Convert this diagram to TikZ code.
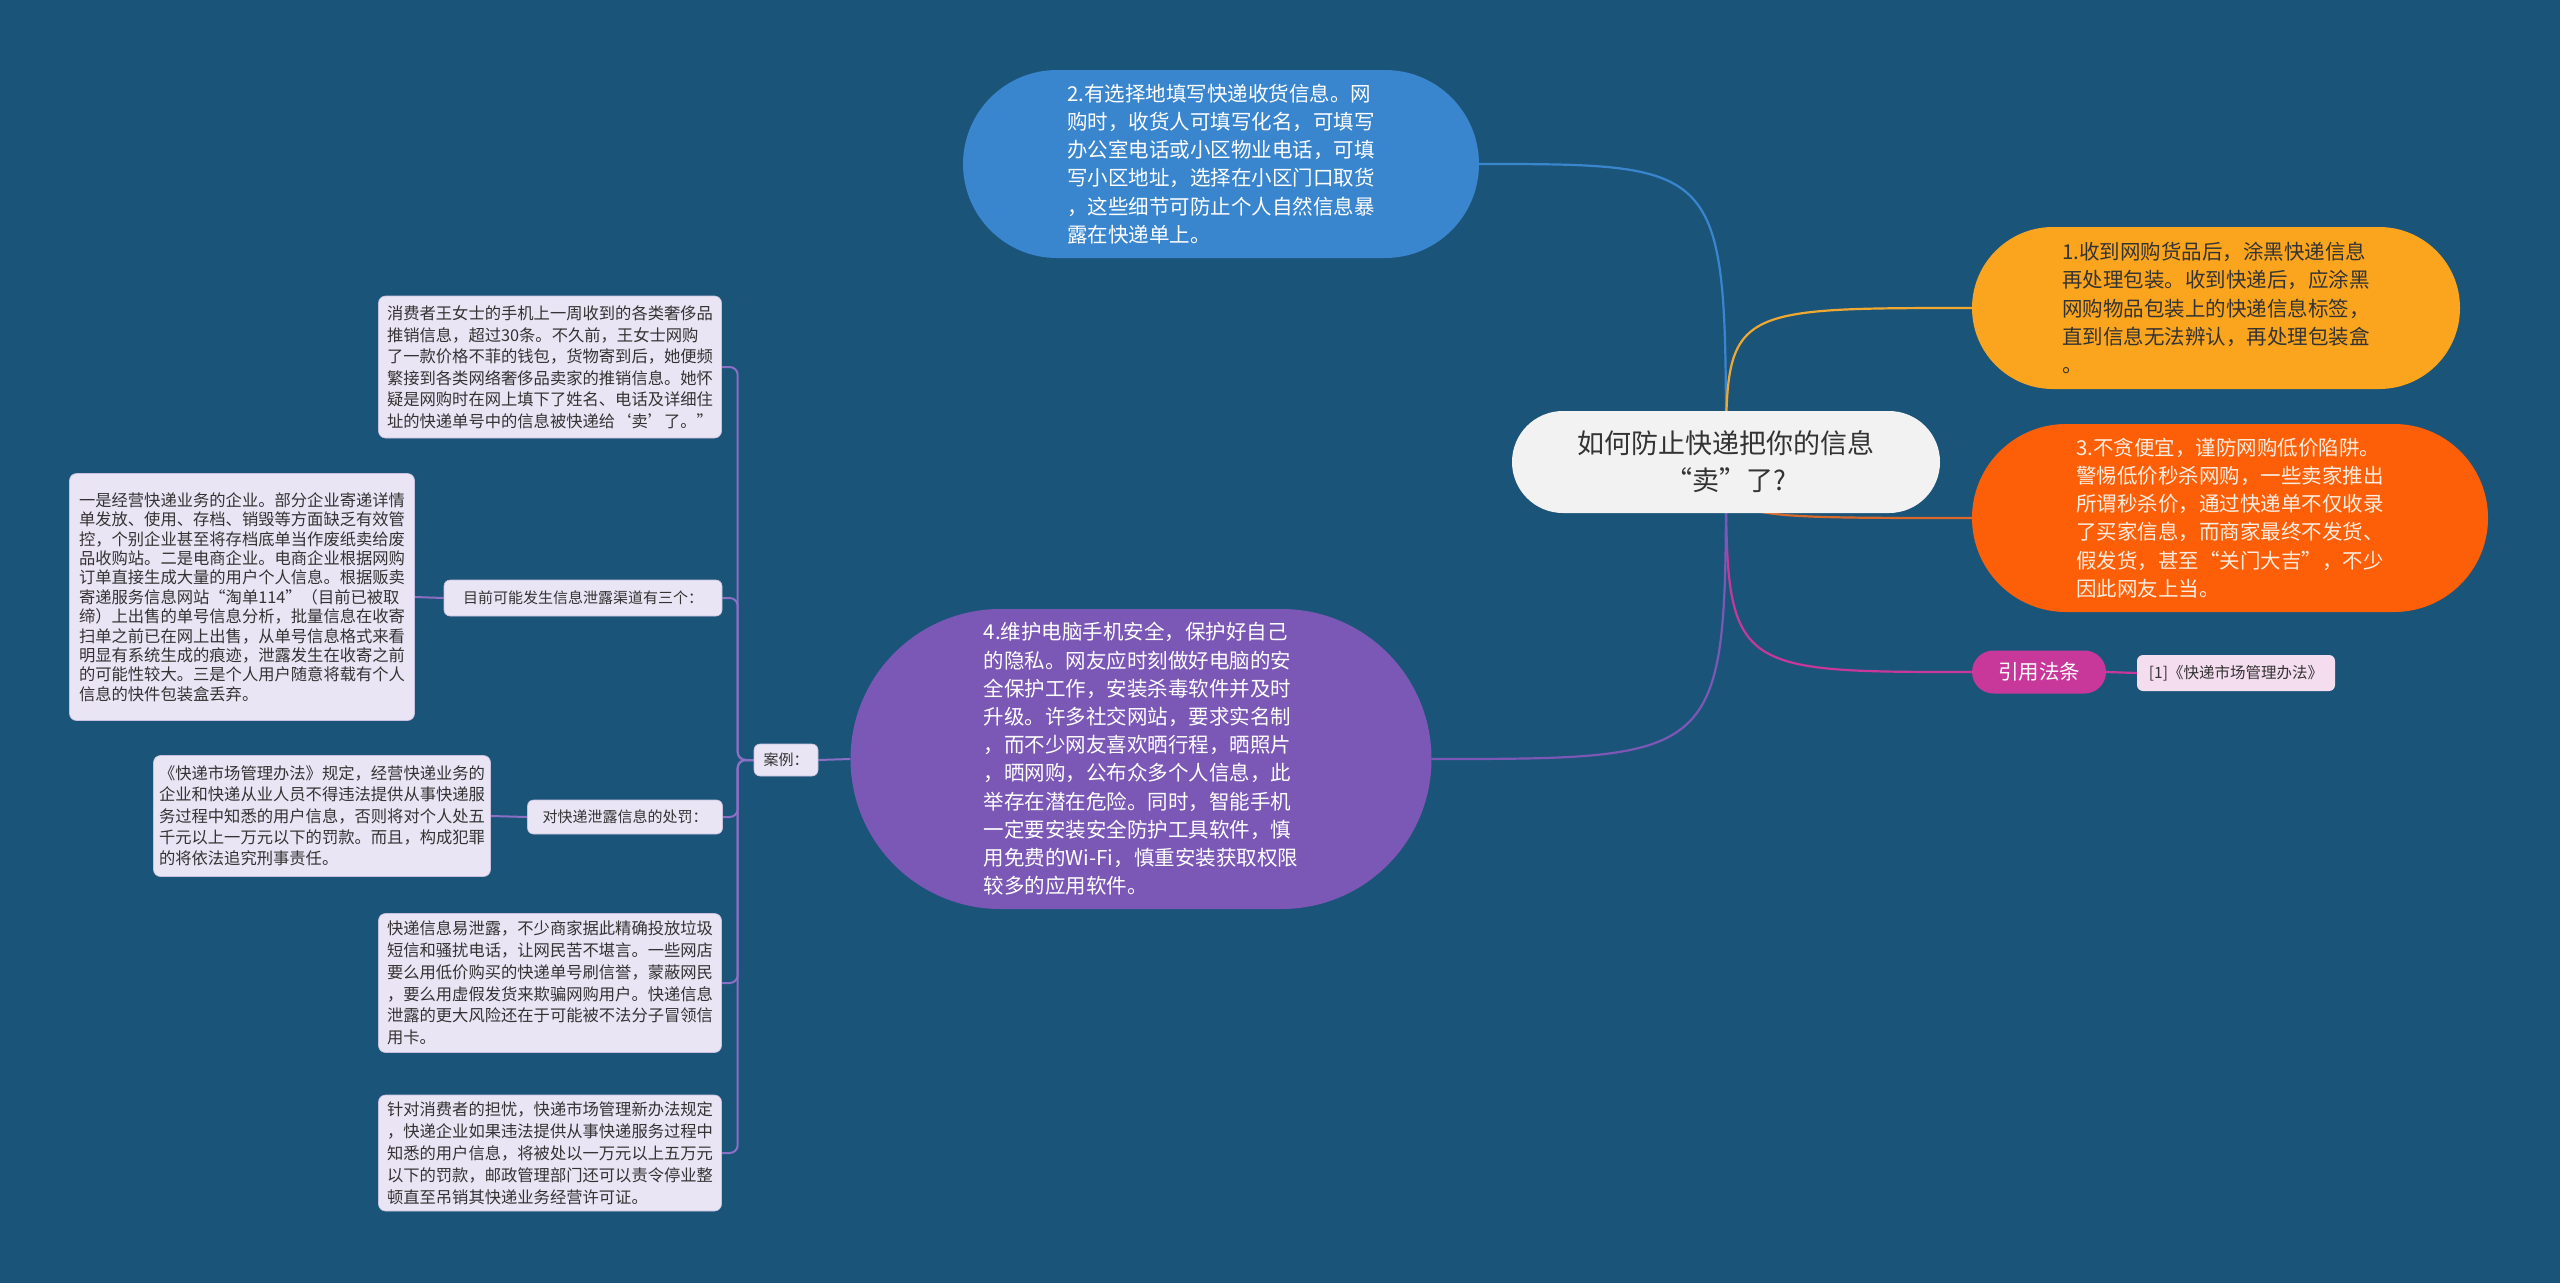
\documentclass[tikz,border=0pt]{standalone}
\usepackage{fontspec}
\setmainfont{Noto Sans CJK SC}
\usetikzlibrary{shapes.misc,backgrounds}
\pgfdeclarelayer{bgfill}
\pgfsetlayers{bgfill,background,main}
\definecolor{bg}{HTML}{1B5479}
\definecolor{cblue}{HTML}{3A86CE}
\definecolor{cyellow}{HTML}{FBA51E}
\definecolor{cyline}{HTML}{F0A830}
\definecolor{corange}{HTML}{FD5F08}
\definecolor{coline}{HTML}{D9692A}
\definecolor{cpurple}{HTML}{7C58B6}
\definecolor{cmag}{HTML}{C8389A}
\definecolor{cpink}{HTML}{F5DDF0}
\definecolor{croot}{HTML}{F2F2F2}
\definecolor{cbox}{HTML}{E9E5F4}
\definecolor{cboxline}{HTML}{C8C0DE}
\definecolor{ctree}{HTML}{8A6FC4}
\definecolor{ctext}{HTML}{333333}
\definecolor{ccream}{HTML}{FCEDE0}
\begin{document}
\begin{tikzpicture}[x=1pt,y=-1pt,
  blob/.style={shape=rounded rectangle, align=left, inner sep=0pt,
    font={\fontsize{20.5}{28.2}\selectfont}},
  smallbox/.style={shape=rectangle, rounded corners=7pt, fill=cbox, draw=cboxline,
    line width=0.6pt, align=left, inner sep=0pt, text=ctext},
  lbl/.style={shape=rectangle, rounded corners=6pt, fill=cbox, draw=cboxline,
    line width=0.6pt, inner sep=0pt, text=ctext, font={\fontsize{15}{18}\selectfont}},
  conn/.style={line width=2.2pt},
  tree/.style={line width=2pt, draw=ctree, rounded corners=8pt}
]
\begin{pgfonlayer}{bgfill}
\fill[bg] (0,0) rectangle (2560,1283);
\end{pgfonlayer}
\useasboundingbox (0,0) rectangle (2560,1283);

% root and main branches
\node[blob, fill=croot, text=ctext, minimum width=428pt, minimum height=102pt,
  align=center, font={\fontsize{27}{37}\selectfont}] (root) at (1726,462)
  {如何防止快递把你的信息\\“卖”了?};

\node[blob, fill=cblue, text=white, minimum width=516pt, minimum height=188pt] (n2) at (1221,164)
{2.有选择地填写快递收货信息。网\\购时，收货人可填写化名，可填写\\办公室电话或小区物业电话，可填\\写小区地址，选择在小区门口取货\\，这些细节可防止个人自然信息暴\\露在快递单上。};

\node[blob, fill=cyellow, text=ctext, minimum width=488pt, minimum height=162pt] (n1) at (2216,308)
{1.收到网购货品后，涂黑快递信息\\再处理包装。收到快递后，应涂黑\\网购物品包装上的快递信息标签，\\直到信息无法辨认，再处理包装盒\\。};

\node[blob, fill=corange, text=ccream, minimum width=516pt, minimum height=188pt] (n3) at (2230,518)
{3.不贪便宜，谨防网购低价陷阱。\\警惕低价秒杀网购，一些卖家推出\\所谓秒杀价，通过快递单不仅收录\\了买家信息，而商家最终不发货、\\假发货，甚至“关门大吉”，不少\\因此网友上当。};

\node[blob, fill=cmag, text=white, minimum width=134pt, minimum height=43pt,
  font={\fontsize{20.5}{24}\selectfont}] (law) at (2039,672) {引用法条};

\node[shape=rectangle, rounded corners=6pt, fill=cpink, text=ctext, inner sep=0pt,
  minimum width=198pt, minimum height=36pt, font={\fontsize{15.5}{18}\selectfont}] (ref) at (2236,673)
  {[1]《快递市场管理办法》};

\node[blob, fill=cpurple, text=white, minimum width=581pt, minimum height=300pt] (n4) at (1141,759)
{4.维护电脑手机安全，保护好自己\\的隐私。网友应时刻做好电脑的安\\全保护工作，安装杀毒软件并及时\\升级。许多社交网站，要求实名制\\，而不少网友喜欢晒行程，晒照片\\，晒网购，公布众多个人信息，此\\举存在潜在危险。同时，智能手机\\一定要安装安全防护工具软件，慎\\用免费的Wi-Fi，慎重安装获取权限\\较多的应用软件。};

% left tree
\node[lbl, minimum width=64pt, minimum height=32pt] (case) at (786,760) {案例：};

\node[smallbox, minimum width=343pt, minimum height=142pt, font={\fontsize{16.3}{21.5}\selectfont}] (ca) at (550,367)
{消费者王女士的手机上一周收到的各类奢侈品\\推销信息，超过30条。不久前，王女士网购\\了一款价格不菲的钱包，货物寄到后，她便频\\繁接到各类网络奢侈品卖家的推销信息。她怀\\疑是网购时在网上填下了姓名、电话及详细住\\址的快递单号中的信息被快递给‘卖’了。”};

\node[lbl, minimum width=278pt, minimum height=36pt] (cb) at (583,598) {目前可能发生信息泄露渠道有三个：};

\node[smallbox, minimum width=345pt, minimum height=247pt, font={\fontsize{16.3}{19.4}\selectfont}] (cb1) at (242,597)
{一是经营快递业务的企业。部分企业寄递详情\\单发放、使用、存档、销毁等方面缺乏有效管\\控，个别企业甚至将存档底单当作废纸卖给废\\品收购站。二是电商企业。电商企业根据网购\\订单直接生成大量的用户个人信息。根据贩卖\\寄递服务信息网站“淘单114”（目前已被取\\缔）上出售的单号信息分析，批量信息在收寄\\扫单之前已在网上出售，从单号信息格式来看\\明显有系统生成的痕迹，泄露发生在收寄之前\\的可能性较大。三是个人用户随意将载有个人\\信息的快件包装盒丢弃。};

\node[lbl, minimum width=195pt, minimum height=34pt] (cc) at (625,817) {对快递泄露信息的处罚：};

\node[smallbox, minimum width=337pt, minimum height=121pt, font={\fontsize{16.3}{21.3}\selectfont}] (cc1) at (322,816)
{《快递市场管理办法》规定，经营快递业务的\\企业和快递从业人员不得违法提供从事快递服\\务过程中知悉的用户信息，否则将对个人处五\\千元以上一万元以下的罚款。而且，构成犯罪\\的将依法追究刑事责任。};

\node[smallbox, minimum width=343pt, minimum height=139pt, font={\fontsize{16.3}{21.8}\selectfont}] (cd) at (550,983)
{快递信息易泄露，不少商家据此精确投放垃圾\\短信和骚扰电话，让网民苦不堪言。一些网店\\要么用低价购买的快递单号刷信誉，蒙蔽网民\\，要么用虚假发货来欺骗网购用户。快递信息\\泄露的更大风险还在于可能被不法分子冒领信\\用卡。};

\node[smallbox, minimum width=343pt, minimum height=116pt, font={\fontsize{16.3}{22}\selectfont}] (ce) at (550,1153)
{针对消费者的担忧，快递市场管理新办法规定\\，快递企业如果违法提供从事快递服务过程中\\知悉的用户信息，将被处以一万元以上五万元\\以下的罚款，邮政管理部门还可以责令停业整\\顿直至吊销其快递业务经营许可证。};

% connectors (behind nodes)
\begin{scope}[on background layer]
\draw[conn, cblue] (root.center) .. controls (root.center |- n2.east) .. (n2.east);
\draw[conn, cyline] (root.center) .. controls (root.center |- n1.west) .. (n1.west);
\draw[conn, coline] (root.center) .. controls (root.center |- n3.west) .. (n3.west);
\draw[conn, cmag] (root.center) .. controls (root.center |- law.west) .. (law.west);
\draw[conn, cmag] (law.east) -- (ref.west);
\draw[conn, cpurple] (root.center) .. controls (root.center |- n4.east) .. (n4.east);
\draw[tree] (n4.west) -- (case.east);
\draw[tree] (case.west) -- ++(-16,0) |- (ca.east);
\draw[tree] (case.west) -- ++(-16,0) |- (cb.east);
\draw[tree] (case.west) -- ++(-16,0) |- (cc.east);
\draw[tree] (case.west) -- ++(-16,0) |- (cd.east);
\draw[tree] (case.west) -- ++(-16,0) |- (ce.east);
\draw[tree] (cb.west) -- (cb1.east);
\draw[tree] (cc.west) -- (cc1.east);
\end{scope}

\end{tikzpicture}
\end{document}
